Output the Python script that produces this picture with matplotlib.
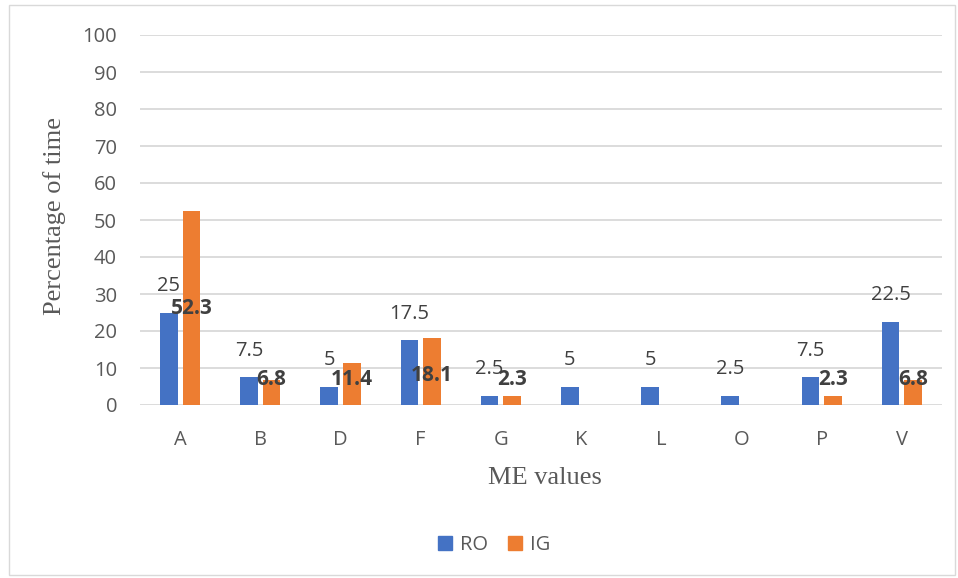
import numpy as np
import matplotlib.pyplot as plt
from matplotlib.patches import Rectangle, Patch

# data
categories = ["A", "B", "D", "F", "G", "K", "L", "O", "P", "V"]
ro_values = [25, 7.5, 5, 17.5, 2.5, 5, 5, 2.5, 7.5, 22.5]
ig_values = [52.3, 6.8, 11.4, 18.1, 2.3, None, None, None, 2.3, 6.8]

# where the IG labels sit in the original (manually moved in Excel)
ig_label_y = [26, 7, 7, 8, 7, None, None, None, 7, 7]

blue = "#4472C4"
orange = "#ED7D31"
text_gray = "#595959"
label_gray = "#404040"
grid_gray = "#D9D9D9"

plt.rcParams["font.family"] = ["Open Sans", "DejaVu Sans"]

fig = plt.figure(figsize=(9.58, 5.78), dpi=100)
ax = fig.add_axes([140 / 958, 1 - 405 / 578, 802 / 958, 370 / 578])

x = np.arange(len(categories))
width = 0.22
offset = 0.14

ax.bar(x - offset, ro_values, width, color=blue, zorder=3)
ig_plot = [v if v is not None else 0 for v in ig_values]
ax.bar(x + offset, ig_plot, width, color=orange, zorder=3)

# RO labels above bars
for xi, v in zip(x, ro_values):
    ax.annotate(f"{v:g}", (xi - offset, v), xytext=(0, 19),
                textcoords="offset points", ha="center", va="center",
                fontsize=14.5, color=label_gray, zorder=5)

# IG labels, bold
for xi, v, ly in zip(x, ig_values, ig_label_y):
    if v is None:
        continue
    ax.text(xi + offset, ly, f"{v:g}", ha="center", va="center",
            fontsize=15, fontweight="bold", color=label_gray, zorder=5)

ax.set_xlim(-0.5, len(categories) - 0.5)
ax.set_ylim(0, 100)
ax.set_yticks(range(0, 101, 10))
ax.set_xticks(x)
ax.set_xticklabels(categories)
ax.tick_params(axis="both", length=0, labelsize=14.5, colors=text_gray)
ax.tick_params(axis="y", pad=16.5)
ax.tick_params(axis="x", pad=18)
ax.grid(axis="y", color=grid_gray, linewidth=1.3, zorder=0)
for s in ax.spines.values():
    s.set_visible(False)

fig.text(55 / 958, 1 - 216 / 578, "Percentage of time", rotation=90,
         ha="center", va="center", fontsize=19, color=text_gray,
         family="Liberation Serif")
fig.text(545 / 958, 1 - 478 / 578, "ME values", ha="center", va="center",
         fontsize=19, color=text_gray, family="Liberation Serif")

handles = [Patch(color=blue, label="RO"), Patch(color=orange, label="IG")]
fig.legend(handles=handles, loc="center", bbox_to_anchor=(494 / 958, 1 - 545 / 578),
           ncol=2, frameon=False, fontsize=14.5, handlelength=0.7,
           handleheight=0.7, handletextpad=0.4, columnspacing=1.0,
           labelcolor=text_gray)

# light frame round the chart
fig.patches.append(Rectangle((9 / 958, 3 / 578), 946 / 958, 570 / 578,
                             transform=fig.transFigure, fill=False,
                             edgecolor="#D9D9D9", linewidth=1))

plt.savefig("out.png", dpi=100)
